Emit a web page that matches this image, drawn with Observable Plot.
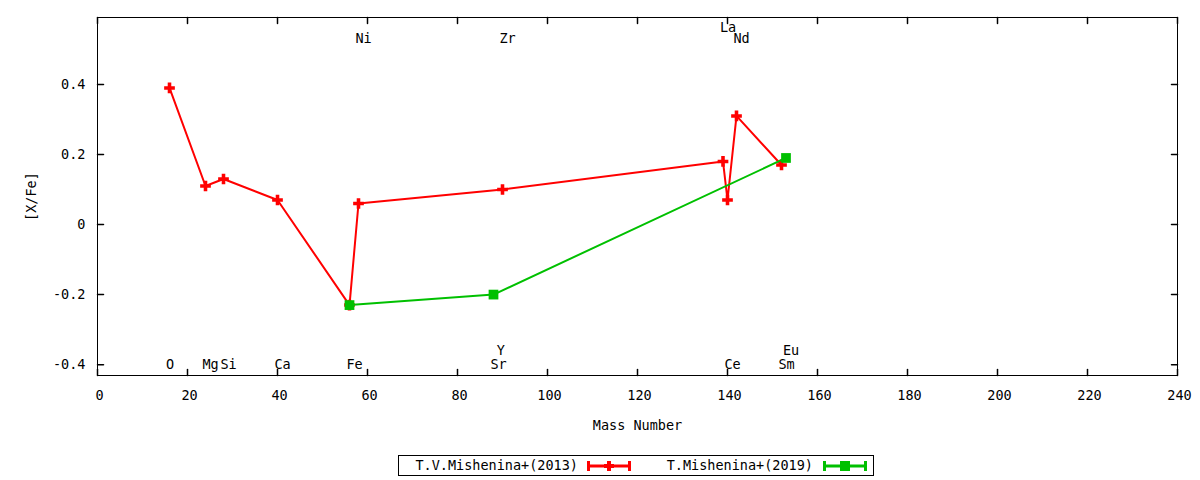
<!DOCTYPE html>
<html>
<head>
<meta charset="utf-8">
<script src="https://cdn.jsdelivr.net/npm/d3@7"></script>
<script src="https://cdn.jsdelivr.net/npm/@observablehq/plot@0.6"></script>
<style>
  body { margin: 0; background: #fff; font-family: "DejaVu Sans Mono", monospace; }
  #wrap { position: relative; width: 1200px; height: 480px; }
  #legend { position: absolute; left: 398px; top: 455px; width: 474px; height: 19px; border: 1px solid #000; font-size: 13.5px; }
  .ltext { position: absolute; top: 1px; text-align: right; white-space: nowrap; }
  .lsym { position: absolute; top: 3px; }
</style>
</head>
<body>
<div id="wrap">
  <div id="chart"></div>
  <div id="legend"></div>
</div>
<script>
// Series: T.V.Mishenina+(2013)
const massA = [16, 24, 28, 40, 56, 58, 90, 139, 140, 142, 152];
const xfeA  = [0.39, 0.11, 0.13, 0.07, -0.23, 0.06, 0.10, 0.18, 0.07, 0.31, 0.17];
// Series: T.Mishenina+(2019)
const massB = [56, 88, 153];
const xfeB  = [-0.23, -0.20, 0.19];
// Element labels
const labelNames = ["O", "Mg", "Si", "Ca", "Fe", "Ni", "Sr", "Y", "Zr", "La", "Ce", "Nd", "Sm", "Eu"];
const labelMass  = [15, 24, 28, 40, 56, 58, 88, 88.5, 90, 139, 140, 142, 152, 153];
const labelY     = [-0.4, -0.4, -0.4, -0.4, -0.4, 0.53, -0.4, -0.36, 0.53, 0.563, -0.4, 0.53, -0.4, -0.36];
// Ticks
const xTicks = [0, 20, 40, 60, 80, 100, 120, 140, 160, 180, 200, 220, 240];
const yTicks = [-0.4, -0.2, 0, 0.2, 0.4];
const seriesNames = ["T.V.Mishenina+(2013)", "T.Mishenina+(2019)"];
const seriesColors = ["#ff0000", "#00c000"];

const dataA = massA.map((m, i) => ({mass: m, xfe: xfeA[i]}));
const dataB = massB.map((m, i) => ({mass: m, xfe: xfeB[i]}));
const labels = labelNames.map((n, i) => ({name: n, mass: labelMass[i], y: labelY[i]}));

const tickShape = {draw(ctx, l) { ctx.moveTo(0, 0); ctx.lineTo(0, -l); }};
const font = "DejaVu Sans Mono";
const fs = 13.5;

const chart = Plot.plot({
  width: 1200,
  height: 445,
  marginLeft: 97,
  marginRight: 23,
  marginTop: 17,
  marginBottom: 70,
  style: {fontFamily: font, fontSize: fs + "px", background: "#fff", color: "#000"},
  x: {domain: [0, 240]},
  y: {domain: [-0.431, 0.591]},
  marks: [
    Plot.frame({stroke: "#000", strokeWidth: 1}),
    Plot.axisX({ticks: xTicks, tickSize: 0, tickPadding: 15, dx: 2, tickFormat: d => String(d),
      label: null, fontSize: fs}),
    Plot.axisX({ticks: [], tickSize: 0,
      label: "Mass Number", labelAnchor: "center", labelArrow: "none", labelOffset: 54, fontSize: fs}),
    Plot.axisY({ticks: yTicks, tickSize: 0, tickPadding: 12, tickFormat: d => d === 0 ? "0" : String(d),
      label: "[X/Fe]", labelAnchor: "center", labelArrow: "none", labelOffset: 71, fontSize: fs}),
    Plot.vector(xTicks, {x: d => d, frameAnchor: "bottom", length: 6, anchor: "start", shape: tickShape, stroke: "#000"}),
    Plot.vector(xTicks, {x: d => d, frameAnchor: "top", length: 6, rotate: 180, anchor: "start", shape: tickShape, stroke: "#000"}),
    Plot.vector(yTicks, {y: d => d, frameAnchor: "left", length: 6, rotate: 90, anchor: "start", shape: tickShape, stroke: "#000"}),
    Plot.vector(yTicks, {y: d => d, frameAnchor: "right", length: 6, rotate: -90, anchor: "start", shape: tickShape, stroke: "#000"}),
    Plot.text(labels, {x: "mass", y: "y", text: "name", dx: 5, fontSize: fs, fill: "#000"}),
    Plot.line(dataA, {x: "mass", y: "xfe", stroke: seriesColors[0], strokeWidth: 2}),
    Plot.dot(dataA, {x: "mass", y: "xfe", symbol: "cross", r: 4.5, fill: seriesColors[0]}),
    Plot.line(dataB, {x: "mass", y: "xfe", stroke: seriesColors[1], strokeWidth: 2}),
    Plot.dot(dataB, {x: "mass", y: "xfe", symbol: "square", r: 5.5, fill: seriesColors[1]})
  ]
});
document.getElementById("chart").appendChild(chart);

// Legend
const legend = document.getElementById("legend");
const textRight = [179, 414];
const symLeft = [188, 424];
seriesNames.forEach((name, i) => {
  const t = document.createElement("div");
  t.className = "ltext";
  t.style.right = (474 - textRight[i]) + "px";
  t.textContent = name;
  legend.appendChild(t);
  const ns = "http://www.w3.org/2000/svg";
  const s = document.createElementNS(ns, "svg");
  s.setAttribute("class", "lsym");
  s.setAttribute("width", 44);
  s.setAttribute("height", 14);
  s.style.left = symLeft[i] + "px";
  const c = seriesColors[i];
  s.innerHTML = `<line x1="1" y1="7" x2="43" y2="7" stroke="${c}" stroke-width="3"/>
    <line x1="1.5" y1="2" x2="1.5" y2="12" stroke="${c}" stroke-width="3"/>
    <line x1="42.5" y1="2" x2="42.5" y2="12" stroke="${c}" stroke-width="3"/>` +
    (i === 0
      ? `<path d="M17,7h10M22,2v10" stroke="${c}" stroke-width="4"/>`
      : `<rect x="17" y="2" width="10" height="10" fill="${c}"/>`);
  legend.appendChild(s);
});
</script>
</body>
</html>
